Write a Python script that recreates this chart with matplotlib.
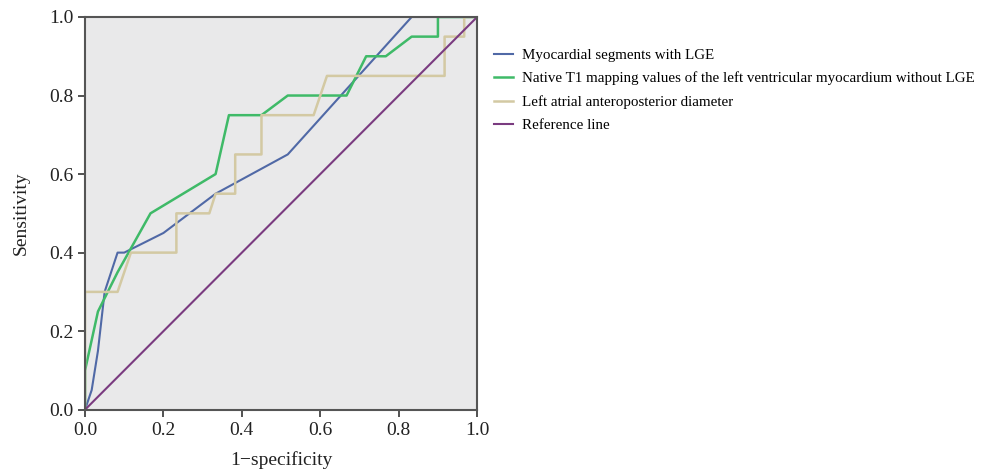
import matplotlib
matplotlib.use('Agg')
import matplotlib.pyplot as plt

plt.rcParams['font.family'] = ['Liberation Serif', 'DejaVu Serif']

# ROC curves (1-specificity, sensitivity)
lge_x = [0, 0.017, 0.033, 0.05, 0.083, 0.1, 0.2, 0.333, 0.517, 0.833, 1.0]
lge_y = [0, 0.05, 0.15, 0.3, 0.4, 0.4, 0.45, 0.55, 0.65, 1.0, 1.0]

t1_x = [0, 0, 0.033, 0.083, 0.167, 0.333, 0.367, 0.45, 0.517, 0.667, 0.717, 0.767, 0.833, 0.9, 0.9, 1.0]
t1_y = [0, 0.1, 0.25, 0.35, 0.5, 0.6, 0.75, 0.75, 0.8, 0.8, 0.9, 0.9, 0.95, 0.95, 1.0, 1.0]

la_x = [0, 0, 0.083, 0.117, 0.233, 0.233, 0.317, 0.333, 0.383, 0.383, 0.45, 0.45, 0.583, 0.617, 0.917, 0.917, 0.967, 0.967, 1.0]
la_y = [0, 0.3, 0.3, 0.4, 0.4, 0.5, 0.5, 0.55, 0.55, 0.65, 0.65, 0.75, 0.75, 0.85, 0.85, 0.95, 0.95, 1.0, 1.0]

ref_x = [0, 1]
ref_y = [0, 1]

labels = ['Myocardial segments with LGE',
          'Native T1 mapping values of the left ventricular myocardium without LGE',
          'Left atrial anteroposterior diameter',
          'Reference line']
colors = ['#5069a6', '#3fba68', '#d3c9a3', '#7a3b80']

fig = plt.figure(figsize=(9.84, 4.72), dpi=100)
ax = fig.add_axes([0.0864, 0.132, 0.3985, 0.832])
ax.set_facecolor('#e9e9ea')

ax.plot(lge_x, lge_y, color=colors[0], lw=1.5, label=labels[0])
ax.plot(t1_x, t1_y, color=colors[1], lw=1.8, label=labels[1])
ax.plot(la_x, la_y, color=colors[2], lw=1.8, label=labels[2])
ax.plot(ref_x, ref_y, color=colors[3], lw=1.5, label=labels[3])

ax.set_xlim(0, 1)
ax.set_ylim(0, 1)
ax.set_xticks([0, 0.2, 0.4, 0.6, 0.8, 1.0])
ax.set_yticks([0, 0.2, 0.4, 0.6, 0.8, 1.0])
ax.set_xticklabels(['0.0', '0.2', '0.4', '0.6', '0.8', '1.0'])
ax.set_yticklabels(['0.0', '0.2', '0.4', '0.6', '0.8', '1.0'])
ax.tick_params(direction='out', length=5, width=1.2, colors='#333333', labelsize=14, labelcolor='#222222')
for s in ax.spines.values():
    s.set_color('#555555')
    s.set_linewidth(1.5)

ax.set_xlabel('1\u2212specificity', fontsize=14, color='#222222', labelpad=9)
ax.set_ylabel('Sensitivity', fontsize=14, color='#222222', labelpad=14)

fig.legend(loc='upper left', bbox_to_anchor=(0.488, 0.926), frameon=False,
           fontsize=10.8, handlelength=1.3, handletextpad=0.6, labelspacing=0.65)

plt.savefig('out.png', dpi=100)
